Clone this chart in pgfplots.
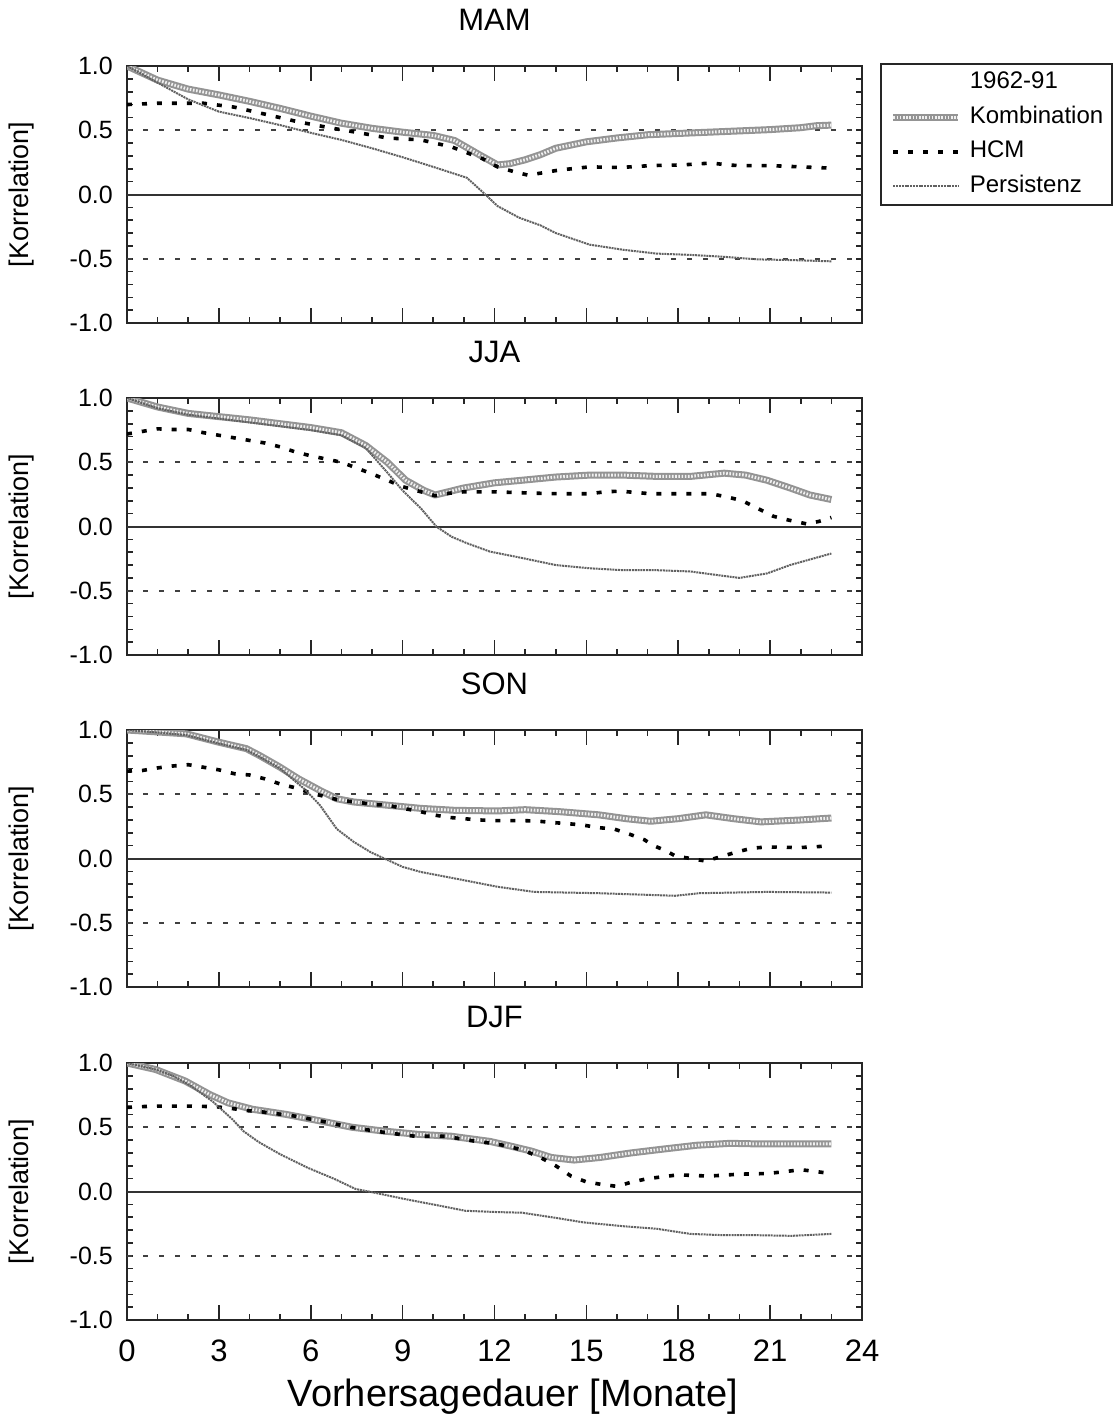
\documentclass[border=0pt]{standalone}
\usepackage{fontspec}
\setmainfont{Liberation Sans}
\usepackage{pgfplots}
\pgfplotsset{compat=1.18}
\newcommand{\fs}[1]{\fontsize{#1bp}{#1bp}\selectfont}
\pgfplotsset{
  panel/.style={
    scale only axis, width=735bp, height=257bp,
    xmin=0, xmax=24, ymin=-1, ymax=1,
    axis line style={line width=1.7bp, black!85},
    xtick={0,3,...,24},
    minor xtick={1,2,4,5,7,8,10,11,13,14,16,17,19,20,22,23},
    ytick={-1,-0.5,0,0.5,1}, yticklabels={-1.0,-0.5,0.0,0.5,1.0},
    minor ytick={-0.9,-0.8,-0.7,-0.6,-0.5,-0.4,-0.3,-0.2,-0.1,0,0.1,0.2,0.3,0.4,0.5,0.6,0.7,0.8,0.9},
    tick align=inside, tick pos=both,
    major tick length=15bp, minor tick length=6bp,
    every tick/.style={line width=1.6bp, black!85},
    major y tick style={draw=none},
    xticklabels={},
    yticklabel style={inner sep=0pt, xshift=-14bp, font=\fs{25}},
    every axis y label/.style={at={(axis description cs:-0.143,0.5)}, rotate=90, anchor=center, font=\fs{27}},
    ylabel={[Korrelation]},
    title style={at={(axis description cs:0.5,1)}, anchor=base, yshift=30bp, font=\fs{31}},
    legend image code/.code={\draw[##1] (0bp,0bp) -- (65bp,0bp);},
  },
  komb/.style={black!42, line width=7bp, line join=round,
    postaction={draw=black!6, line width=3bp, dash pattern=on 1.6bp off 1.6bp}},
  hcm/.style={black, line width=3.6bp, dash pattern=on 5bp off 10bp},
  pers/.style={black!62, line width=2bp, dash pattern=on 2bp off 0.8bp},
  refl/.style={forget plot, black!75, line width=1.8bp, dash pattern=on 5bp off 11bp},
  zerol/.style={forget plot, black!80, line width=2bp},
}
\newcommand{\reflines}{%
  \addplot[refl] coordinates {(0,0.5)(24,0.5)};
  \addplot[refl] coordinates {(0,-0.5)(24,-0.5)};
  \addplot[zerol] coordinates {(0,0)(24,0)};
}
\begin{document}
\begin{tikzpicture}
\path[use as bounding box] (0,0) rectangle (1115bp,-1418bp);

% ---------------- MAM
\begin{axis}[panel, at={(127bp,-323bp)}, anchor=south west, title={MAM},
  legend style={at={(rel axis cs:1.0245,1.0117)}, anchor=north west,
    draw=black!85, line width=1.6bp, inner xsep=9bp, inner ysep=8bp,
    font=\fs{24}, row sep=12.5bp, column sep=8bp,
    nodes={inner sep=0pt, text height=17bp, text depth=5bp}},
  legend cell align=left]
\reflines
\addlegendimage{empty legend}\addlegendentry{1962-91}
\addplot[komb] coordinates {(0,1.0)(1,0.89)(2,0.82)(3,0.775)(4,0.725)(5,0.67)(6,0.61)(7,0.555)(8,0.515)(9,0.485)(10,0.46)(10.7,0.42)(11.5,0.31)(12.1,0.23)(12.5,0.24)(13,0.27)(13.5,0.31)(14,0.36)(15,0.41)(16,0.44)(17,0.465)(18,0.475)(19,0.485)(20,0.495)(21,0.505)(22,0.52)(22.5,0.535)(23,0.54)};
\addlegendentry{Kombination}
\addplot[hcm] coordinates {(0,0.70)(1,0.71)(2,0.71)(2.5,0.71)(3.5,0.68)(4.6,0.62)(5.6,0.565)(6.6,0.52)(7.6,0.48)(8.5,0.44)(9.6,0.425)(10.6,0.37)(11.6,0.28)(12.1,0.215)(12.6,0.18)(13.1,0.15)(13.6,0.17)(14.1,0.19)(15.1,0.215)(16.1,0.21)(17.1,0.225)(18.1,0.23)(19.1,0.245)(19.6,0.23)(20,0.225)(21,0.225)(22,0.215)(23,0.205)};
\addlegendentry{HCM}
\addplot[pers] coordinates {(0,1.0)(1,0.87)(2,0.74)(3,0.645)(4,0.595)(5,0.54)(6,0.48)(7,0.425)(8,0.36)(9,0.29)(10,0.215)(11.1,0.13)(11.7,0.0)(12.1,-0.09)(12.8,-0.18)(13.5,-0.24)(14,-0.30)(15.1,-0.39)(16.2,-0.43)(17.3,-0.46)(18.4,-0.47)(19.5,-0.485)(20.6,-0.505)(21.65,-0.51)(23,-0.52)};
\addlegendentry{Persistenz}
\end{axis}

% ---------------- JJA
\begin{axis}[panel, at={(127bp,-655bp)}, anchor=south west, title={JJA}]
\reflines
\addplot[komb] coordinates {(0,1.0)(1,0.93)(2,0.88)(3,0.855)(4,0.83)(5,0.80)(6,0.77)(7,0.73)(7.8,0.63)(8.5,0.50)(9.1,0.36)(9.7,0.28)(10.06,0.245)(11,0.30)(12,0.34)(12.9,0.36)(14,0.385)(15.1,0.40)(16.2,0.40)(17.3,0.39)(18.4,0.39)(19.5,0.415)(20.2,0.40)(20.9,0.36)(21.65,0.30)(22.3,0.245)(23,0.21)};
\addplot[hcm] coordinates {(0,0.72)(0.5,0.74)(1,0.76)(1.5,0.755)(2,0.755)(2.5,0.73)(3,0.71)(3.5,0.69)(4,0.67)(4.5,0.65)(5,0.62)(5.5,0.58)(6,0.55)(6.5,0.525)(7,0.50)(7.5,0.455)(8,0.41)(8.5,0.36)(9,0.31)(9.6,0.27)(10.06,0.24)(10.55,0.26)(11,0.27)(12,0.27)(13.2,0.26)(14.1,0.255)(15.1,0.255)(15.6,0.27)(16.1,0.275)(17.1,0.255)(18.1,0.255)(19.05,0.255)(19.6,0.23)(20.1,0.2)(20.6,0.14)(21.1,0.08)(21.6,0.05)(22.2,0.02)(22.6,0.04)(23,0.07)};
\addplot[pers] coordinates {(0,1.0)(1,0.92)(2,0.87)(3,0.84)(4,0.81)(5,0.78)(6,0.75)(7,0.71)(7.8,0.61)(8.5,0.42)(9,0.28)(9.6,0.14)(10.1,0.0)(10.6,-0.08)(11.1,-0.13)(11.85,-0.195)(12.9,-0.245)(14,-0.30)(15.1,-0.325)(16.2,-0.34)(17.3,-0.34)(18.4,-0.35)(19.5,-0.385)(20,-0.40)(20.9,-0.365)(21.65,-0.30)(23,-0.21)};
\end{axis}

% ---------------- SON
\begin{axis}[panel, at={(127bp,-987bp)}, anchor=south west, title={SON}]
\reflines
\addplot[komb] coordinates {(0,1.0)(1,0.985)(1.94,0.97)(3,0.905)(3.9,0.855)(4.34,0.80)(5,0.71)(5.6,0.62)(6.3,0.53)(6.85,0.465)(7.4,0.44)(8.5,0.415)(9.6,0.39)(10.7,0.375)(12.1,0.37)(13,0.38)(14.1,0.365)(15.4,0.34)(16.3,0.31)(17.1,0.29)(18,0.31)(18.9,0.34)(19.8,0.31)(20.7,0.285)(22,0.30)(23,0.315)};
\addplot[hcm] coordinates {(0,0.68)(0.5,0.685)(1,0.705)(1.5,0.72)(2,0.73)(2.5,0.71)(3,0.69)(3.5,0.66)(4,0.65)(4.5,0.62)(5,0.58)(5.5,0.55)(6,0.51)(6.5,0.48)(7,0.45)(7.5,0.44)(8,0.42)(8.5,0.415)(9,0.39)(9.5,0.37)(10,0.34)(10.5,0.32)(11,0.31)(11.5,0.30)(12,0.295)(12.95,0.295)(13.45,0.29)(13.9,0.28)(14.45,0.27)(14.9,0.26)(15.4,0.24)(15.9,0.23)(16.4,0.19)(16.9,0.145)(17.2,0.10)(17.6,0.06)(17.9,0.02)(18.4,0.0)(18.9,-0.02)(19.4,0.015)(19.9,0.05)(20.4,0.08)(20.9,0.09)(21.9,0.085)(22.4,0.09)(23,0.10)};
\addplot[pers] coordinates {(0,1.0)(1,0.98)(1.94,0.96)(3,0.895)(3.9,0.845)(4.34,0.79)(5,0.70)(5.8,0.54)(6.3,0.415)(6.85,0.23)(7.4,0.13)(7.95,0.05)(8.4,0.0)(9,-0.065)(9.6,-0.105)(10.7,-0.155)(12.1,-0.22)(13.3,-0.26)(15.4,-0.27)(17.9,-0.29)(18.7,-0.27)(20.9,-0.26)(23,-0.265)};
\end{axis}

% ---------------- DJF
\begin{axis}[panel, at={(127bp,-1320bp)}, anchor=south west, title={DJF},
  xticklabels={0,3,6,9,12,15,18,21,24},
  xticklabel style={anchor=north, inner sep=0pt, yshift=-20bp, font=\fs{31}},
  xlabel={Vorhersagedauer [Monate]},
  every axis x label/.style={at={(axis description cs:0.525,0)}, anchor=base, yshift=-86bp, font=\fs{38}}]
\reflines
\addplot[komb] coordinates {(0,1.0)(0.93,0.95)(1.9,0.86)(2.7,0.755)(3.3,0.69)(4.1,0.64)(5.2,0.60)(6.3,0.55)(7.35,0.50)(8.4,0.47)(9.5,0.445)(10.6,0.43)(11.85,0.39)(12.5,0.355)(13.2,0.315)(13.85,0.265)(14.6,0.245)(15.45,0.265)(16.45,0.30)(17.5,0.33)(18.6,0.36)(19.7,0.375)(20.7,0.37)(21.8,0.37)(23,0.37)};
\addplot[hcm] coordinates {(0,0.655)(0.4,0.66)(1,0.665)(2,0.665)(2.9,0.66)(3.45,0.645)(3.9,0.63)(4.4,0.62)(5.4,0.59)(6.3,0.55)(7.3,0.50)(8.4,0.46)(9.4,0.43)(10.4,0.43)(11.4,0.39)(11.95,0.375)(12.5,0.35)(13,0.315)(13.5,0.265)(14,0.20)(14.5,0.12)(15,0.075)(15.5,0.055)(16,0.04)(16.5,0.075)(17,0.10)(17.5,0.115)(18,0.13)(19,0.12)(20,0.135)(20.9,0.14)(21.5,0.155)(22,0.17)(22.5,0.155)(23,0.14)};
\addplot[pers] coordinates {(0,1.0)(0.93,0.95)(1.5,0.9)(2.1,0.82)(2.8,0.70)(3.45,0.56)(3.8,0.47)(4.3,0.385)(5,0.29)(5.9,0.185)(6.8,0.095)(7.46,0.02)(8.1,-0.01)(9.1,-0.06)(10.2,-0.11)(11.05,-0.15)(12.1,-0.16)(12.9,-0.165)(14,-0.205)(14.9,-0.24)(16.2,-0.27)(17.3,-0.29)(18.4,-0.33)(19.5,-0.34)(20.6,-0.34)(21.7,-0.345)(23,-0.33)};
\end{axis}
\end{tikzpicture}
\end{document}
